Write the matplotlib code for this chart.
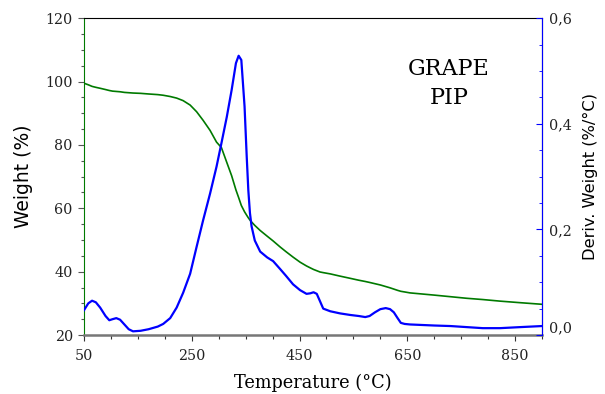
import matplotlib
matplotlib.use("Agg")
import matplotlib.pyplot as plt
from matplotlib.ticker import MultipleLocator

# temperature (°C)
temperature = [50, 58, 65, 72, 80, 90, 97, 103, 110, 117, 125, 133, 141, 155, 170,
               187, 197, 210, 222, 234, 247, 259, 271, 284, 296, 305, 315, 324, 332,
               337, 342, 348, 352, 355, 358, 361, 367, 377, 390, 401, 414, 425, 438,
               451, 463, 470, 476, 482, 488, 494, 507, 525, 544, 560, 572, 580, 590,
               600, 610, 618, 625, 632, 638, 645, 655, 700, 730, 760, 790, 822, 860, 900]

# TGA weight (%)
weight = [99.5, 99.0, 98.5, 98.2, 97.9, 97.5, 97.2, 97.0, 96.9, 96.8, 96.6, 96.5, 96.4,
          96.3, 96.1, 95.9, 95.7, 95.3, 94.8, 94.0, 92.6, 90.5, 87.8, 84.6, 80.9, 79.2,
          74.5, 70.3, 65.8, 63.4, 60.9, 58.9, 57.8, 57.0, 56.3, 55.7, 54.6, 53.0, 51.2,
          49.7, 47.8, 46.3, 44.6, 43.0, 41.8, 41.2, 40.7, 40.3, 39.9, 39.7, 39.3, 38.6,
          37.9, 37.3, 36.9, 36.6, 36.2, 35.8, 35.3, 34.9, 34.5, 34.1, 33.8, 33.6, 33.3,
          32.6, 32.1, 31.6, 31.2, 30.7, 30.2, 29.7]

# DTG derivative weight (%/°C)
deriv = [0.047, 0.060, 0.065, 0.062, 0.052, 0.036, 0.028, 0.030, 0.032, 0.029, 0.020,
         0.011, 0.007, 0.008, 0.011, 0.016, 0.021, 0.032, 0.052, 0.080, 0.116, 0.167,
         0.217, 0.268, 0.319, 0.363, 0.413, 0.464, 0.515, 0.529, 0.521, 0.433, 0.338,
         0.274, 0.231, 0.206, 0.179, 0.158, 0.147, 0.140, 0.125, 0.112, 0.096, 0.085,
         0.078, 0.079, 0.081, 0.078, 0.064, 0.050, 0.045, 0.041, 0.038, 0.036, 0.034,
         0.036, 0.043, 0.049, 0.051, 0.049, 0.043, 0.032, 0.023, 0.021, 0.020, 0.018,
         0.017, 0.015, 0.013, 0.013, 0.015, 0.017]

x_ticks = [50, 250, 450, 650, 850]
left_ticks = [20, 40, 60, 80, 100, 120]
right_ticks = [0.0, 0.2, 0.4, 0.6]
right_labels = ["0,0", "0,2", "0,4", "0,6"]

green = "#007a00"
blue = "#0000ff"
serif = "DejaVu Serif"

fig = plt.figure(figsize=(6.05, 3.94), dpi=100)
ax = fig.add_axes([0.1388, 0.1497, 0.7571, 0.8039])
ax2 = ax.twinx()

ax.plot(temperature, weight, color=green, lw=1.2, zorder=3)
ax2.plot(temperature, deriv, color=blue, lw=1.6)

ax.set_xlim(50, 900)
ax.set_ylim(20, 120)
ax2.set_ylim(0, 0.6)

ax.set_xticks(x_ticks)
ax.set_yticks(left_ticks)
ax2.set_yticks(right_ticks, labels=right_labels)
ax.xaxis.set_minor_locator(MultipleLocator(50))
ax.yaxis.set_minor_locator(MultipleLocator(5))
ax2.yaxis.set_minor_locator(MultipleLocator(0.05))

# spines
ax.spines["top"].set_color("black")
ax.spines["left"].set_color(green)
ax.spines["bottom"].set_color("#777777")
ax.spines["bottom"].set_linewidth(1.8)
ax2.spines["right"].set_color(blue)
ax2.spines["left"].set_visible(False)
ax2.spines["top"].set_visible(False)
ax2.spines["bottom"].set_visible(False)

ax.tick_params(axis="x", which="major", length=4, width=0.8, color="#333333", pad=6)
ax.tick_params(axis="x", which="minor", length=3, width=0.8, color="#333333")
ax.tick_params(axis="y", which="major", length=4, width=0.8, color="#555555", pad=4)
ax.tick_params(axis="y", which="minor", length=2.5, width=0.8, color="#555555")
ax2.tick_params(axis="y", which="major", direction="in", length=4, color=blue, pad=5)
ax2.tick_params(axis="y", which="minor", direction="in", length=2.5, color=blue)

for lab in ax.get_xticklabels() + ax.get_yticklabels() + ax2.get_yticklabels():
    lab.set_fontfamily(serif)
    lab.set_fontsize(10.3)
    lab.set_color("#222222")
ax2.get_yticklabels()[0].set_va("bottom")

ax.set_xlabel("Temperature (°C)", fontfamily=serif, fontsize=12.8, labelpad=8)
ax.set_ylabel("Weight (%)", fontsize=13.5, labelpad=9)
ax2.set_ylabel("Deriv. Weight (%/°C)", fontsize=11.7, labelpad=8)

ax.text(0.797, 0.795, "GRAPE\nPIP", transform=ax.transAxes, ha="center", va="center",
        fontfamily=serif, fontsize=16, linespacing=1.4)

fig.savefig("out.png", dpi=100)
